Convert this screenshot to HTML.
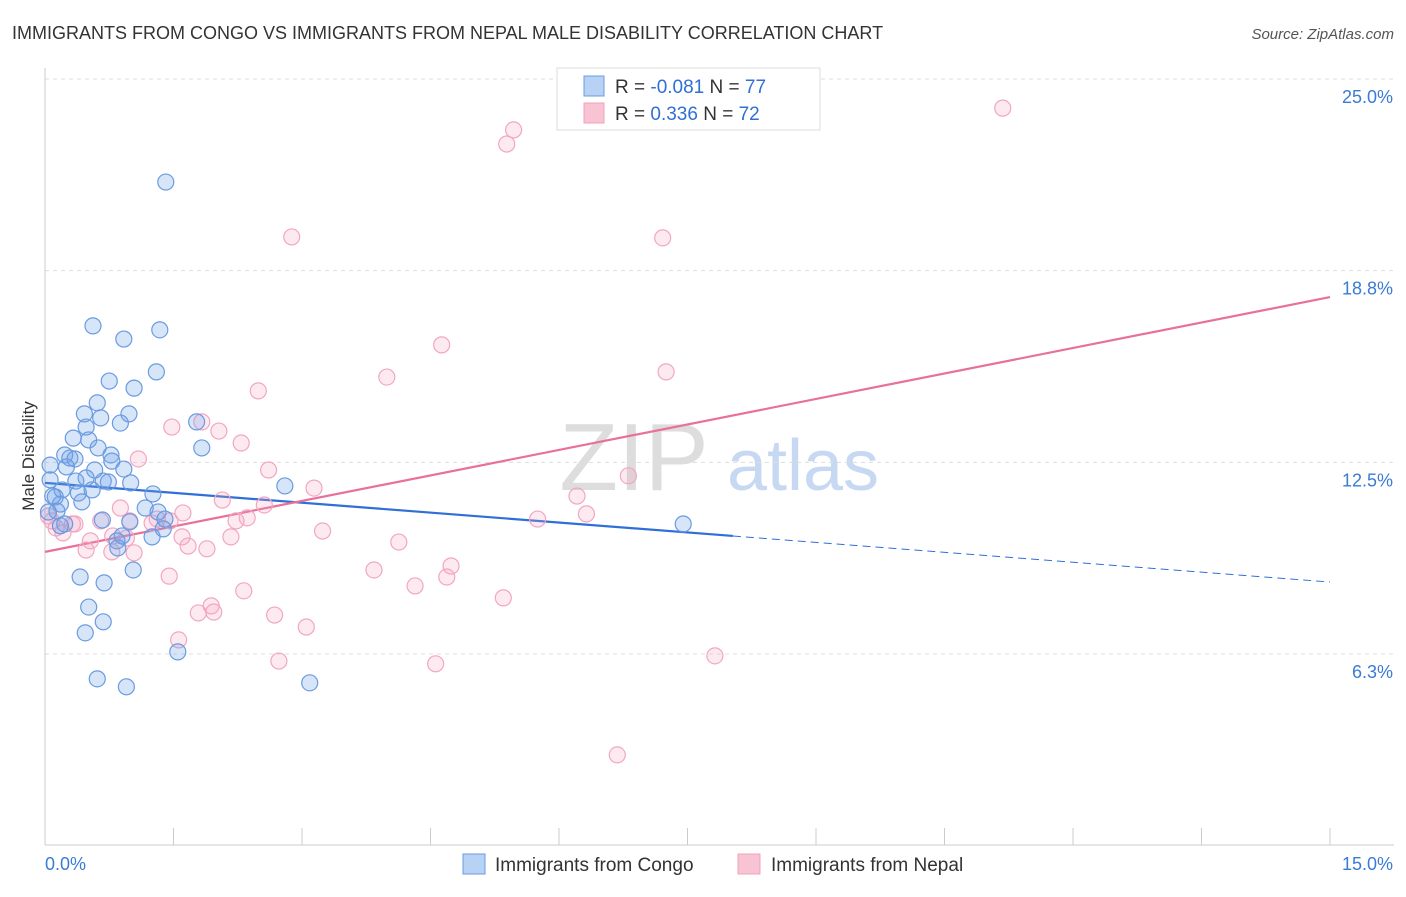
<!DOCTYPE html>
<html><head><meta charset="utf-8"><style>
body{margin:0;background:#fff;font-family:"Liberation Sans",sans-serif;}
svg text{font-family:"Liberation Sans",sans-serif;}
</style></head><body>
<svg id="chart" width="1406" height="892" xmlns="http://www.w3.org/2000/svg">
<text x="12" y="39" font-size="18" fill="#333">IMMIGRANTS FROM CONGO VS IMMIGRANTS FROM NEPAL MALE DISABILITY CORRELATION CHART</text>
<text x="1394" y="39" font-size="15" fill="#555" text-anchor="end" font-style="italic">Source: ZipAtlas.com</text>
<text transform="translate(34,456) rotate(-90)" font-size="17" fill="#333" text-anchor="middle">Male Disability</text>
<g>
<text x="634" y="490" font-size="96" fill="#ddd" text-anchor="middle" font-family="Liberation Serif, serif">ZIP</text>
<text x="803" y="490" font-size="72" fill="#c7d9f2" text-anchor="middle">atlas</text>
</g>
<g id="grid"></g><g id="axes"></g><g id="lines"></g><g id="pts"></g>
<g>
<rect x="557" y="68" width="263" height="62" fill="#fff" stroke="#ddd"/>
<rect x="584" y="76" width="20" height="20" fill="#b8d2f5" stroke="#6a9be0"/>
<rect x="584" y="103" width="20" height="20" fill="#f8c4d4" stroke="#f0a0bc"/>
<text x="615" y="93" font-size="19" fill="#333">R = <tspan fill="#2f6fd6">-0.081</tspan>   N = <tspan fill="#2f6fd6">77</tspan></text>
<text x="615" y="120" font-size="19" fill="#333">R =  <tspan fill="#2f6fd6"> 0.336</tspan>   N = <tspan fill="#2f6fd6">72</tspan></text>
</g>
<g>
<rect x="463" y="854" width="22" height="20" fill="#b8d2f5" stroke="#6a9be0"/>
<text x="495" y="871" font-size="19" fill="#333">Immigrants from Congo</text>
<rect x="738" y="854" width="22" height="20" fill="#f8c4d4" stroke="#f0a0bc"/>
<text x="771" y="871" font-size="19" fill="#333">Immigrants from Nepal</text>
</g>
</svg>
<script>
const yTicks=[25,18.75,12.5,6.25];
const yTickLabels=["25.0%","18.8%","12.5%","6.3%"];
const xTickLabels=["0.0%","15.0%"];
const congoX=[1.41,0.56,0.92,1.34,1.30,0.75,1.04,0.61,0.46,0.98,0.65,0.88,1.77,0.48,0.33,0.51,1.83,0.62,0.23,0.29,0.77,0.78,0.35,0.06,0.58,0.92,0.25,0.48,0.36,0.68,0.06,0.74,1.00,0.20,0.39,0.55,0.12,0.09,1.26,0.43,0.18,1.17,1.32,0.14,0.04,0.67,0.99,1.40,0.18,1.38,1.25,0.90,0.84,0.85,0.41,1.03,0.69,0.51,0.68,0.47,1.55,0.61,0.95,3.09,2.80,7.45,0.23];
const congoY=[21.64,16.95,16.52,16.82,15.45,15.15,14.92,14.44,14.08,14.08,13.95,13.78,13.82,13.65,13.29,13.23,12.97,12.97,12.74,12.64,12.74,12.54,12.61,12.41,12.25,12.28,12.35,11.99,11.89,11.89,11.93,11.86,11.83,11.60,11.50,11.60,11.37,11.40,11.47,11.21,11.14,11.01,10.88,10.91,10.88,10.62,10.56,10.65,10.43,10.33,10.07,10.10,9.94,9.71,8.76,8.99,8.57,7.78,7.30,6.94,6.32,5.44,5.18,5.31,11.73,10.49,10.49];
const nepalX=[11.18,5.47,5.39,2.88,7.21,4.63,7.25,3.99,2.49,1.48,1.83,2.03,2.29,1.09,2.61,6.81,3.14,6.21,2.07,2.56,0.88,6.32,2.23,2.36,5.75,1.61,1.31,3.24,0.32,0.13,0.65,0.21,0.53,0.79,0.95,1.60,1.67,1.89,2.17,4.13,0.48,0.78,1.04,3.84,4.74,4.69,1.45,4.32,2.32,5.35,1.94,1.97,1.79,2.68,3.05,1.56,2.73,4.56,7.82,6.68,0.35,0.04,0.08,0.99,1.25,1.46];
const nepalY=[24.05,23.34,22.88,19.85,19.82,16.33,15.45,15.28,14.83,13.65,13.82,13.52,13.13,12.61,12.25,12.06,11.66,11.40,11.27,11.11,11.01,10.82,10.59,10.69,10.65,10.85,10.65,10.26,10.49,10.36,10.59,10.20,9.94,10.10,10.03,10.07,9.77,9.68,10.07,9.90,9.64,9.58,9.55,8.99,9.12,8.76,8.79,8.47,8.31,8.08,7.82,7.62,7.59,7.52,7.13,6.71,6.02,5.93,6.19,2.96,10.49,10.75,10.59,10.59,10.52,10.59];
const congoTrend=[11.83,-0.2155]; const congoSolidEnd=8.03;
const nepalTrend=[9.58,0.554];
const X=v=>45+v*85.667, Y=v=>79+(25-v)*30.667;
const NS="http://www.w3.org/2000/svg";
function mk(p,t,a){const e=document.createElementNS(NS,t);for(const k in a)e.setAttribute(k,a[k]);p.appendChild(e);return e;}
const grid=document.getElementById('grid'),axes=document.getElementById('axes'),lines=document.getElementById('lines'),pts=document.getElementById('pts');
yTicks.forEach((v,i)=>{
 const l=mk(grid,'line',{x1:45,x2:1394,y1:Y(v),y2:Y(v),stroke:'#ddd','stroke-dasharray':'4,4'});
 
 
 const t=mk(grid,'text',{x:1393,y:Y(v)+24,'font-size':18,fill:'#3a7bd5','text-anchor':'end'});t.textContent=yTickLabels[i];
 
 
});
const ax=mk(axes,'line',{x1:45,x2:45,y1:68,y2:845,stroke:'#ccc'});


const bx=mk(axes,'line',{x1:45,x2:1394,y1:845,y2:845,stroke:'#ccc'});


for(let i=0;i<=10;i++){const tk=mk(axes,'line',{x1:X(i*1.5),x2:X(i*1.5),y1:828,y2:845,stroke:'#ccc'});
 
 }
const xl0=mk(axes,'text',{x:45,y:870,'font-size':18,fill:'#3a7bd5'});xl0.textContent=xTickLabels[0];


const xl1=mk(axes,'text',{x:1393,y:870,'font-size':18,fill:'#3a7bd5','text-anchor':'end'});xl1.textContent=xTickLabels[1];


function draw(xs,ys,fill,stroke,name){xs.forEach((x,i)=>{const c=mk(pts,'circle',{cx:X(x),cy:Y(ys[i]),r:8,fill:fill,stroke:stroke,'stroke-width':1.2});
 
 });}
draw(nepalX,nepalY,'rgba(244,160,190,0.22)','#f2a6c0','nepal-point');
draw(congoX,congoY,'rgba(110,160,235,0.28)','#6a9be0','congo-point');
const f=(t,x)=>t[0]+t[1]*x;
const b1=mk(lines,'line',{x1:X(0),y1:Y(f(congoTrend,0)),x2:X(congoSolidEnd),y2:Y(f(congoTrend,congoSolidEnd)),stroke:'#2f6fd6','stroke-width':2.2});


const b2=mk(lines,'line',{x1:X(congoSolidEnd),y1:Y(f(congoTrend,congoSolidEnd)),x2:X(15),y2:Y(f(congoTrend,15)),stroke:'#2f6fd6','stroke-width':1,'stroke-dasharray':'8,5'});


const p1=mk(lines,'line',{x1:X(0),y1:Y(f(nepalTrend,0)),x2:X(15),y2:Y(f(nepalTrend,15)),stroke:'#e8709a','stroke-width':2.2});


</script>
</body></html>
